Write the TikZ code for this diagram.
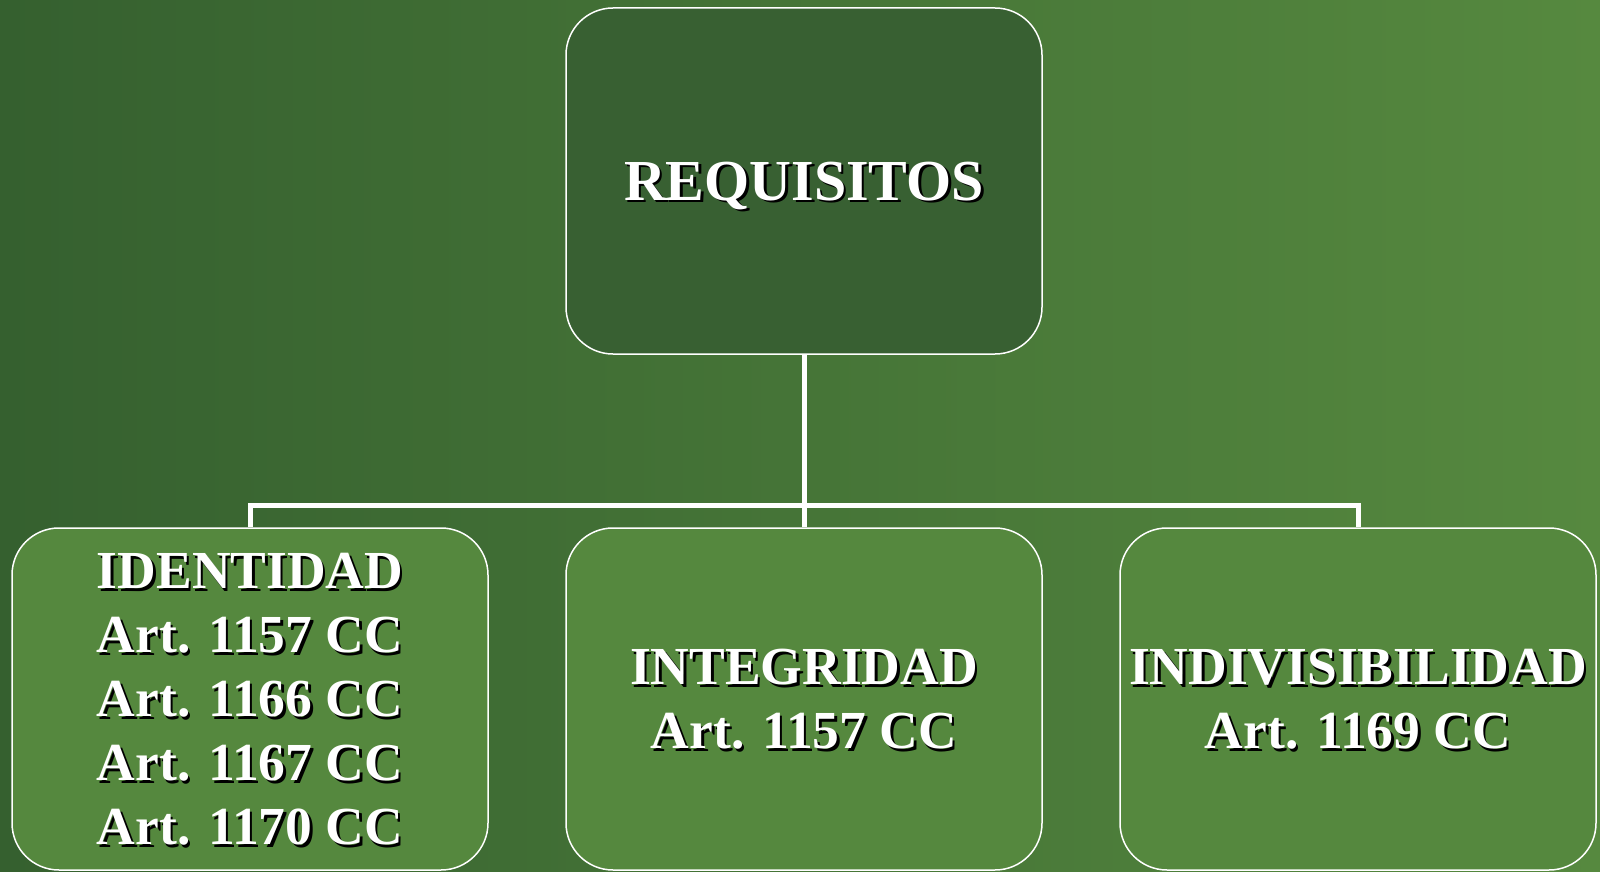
\documentclass[tikz,border=0pt]{standalone}
\usepackage{fontspec}
\setmainfont{Liberation Serif}
\usepackage{tikz}

\definecolor{bgleft}{RGB}{53,96,47}
\definecolor{bgright}{RGB}{86,137,63}
\definecolor{topfill}{RGB}{56,96,50}
\definecolor{boxfill}{RGB}{85,136,62}

\newcommand{\shtext}[1]{\makebox[0pt][l]{\hspace{2.5pt}\raisebox{-2.5pt}{\color{black}#1}}#1}

\begin{document}
\begin{tikzpicture}[x=1pt,y=-1pt,
  reqbox/.style={draw=white,line width=1.5pt,rounded corners=47pt,
    minimum width=476pt,inner sep=0pt,text=white,align=center,text depth=0pt,
    font=\bfseries\fontsize{53.5}{64}\selectfont},
  conn/.style={draw=white,line width=5pt}]
\shade[left color=bgleft,right color=bgright] (0,0) rectangle (1600,872);
\useasboundingbox (0,0) rectangle (1600,872);
\node (req) at (804,181) [reqbox,fill=topfill,minimum height=346pt,
  font=\bfseries\fontsize{58}{70}\selectfont] {\shtext{REQUISITOS}};
\node (ide) at (250,699) [reqbox,fill=boxfill,minimum height=342pt] {\shtext{IDENTIDAD}\\
\shtext{Art. 1157 CC}\\
\shtext{Art. 1166 CC}\\
\shtext{Art. 1167 CC}\\
\shtext{Art. 1170 CC}};
\node (int) at (804,699) [reqbox,fill=boxfill,minimum height=342pt] {\shtext{INTEGRIDAD}\\
\shtext{Art. 1157 CC}};
\node (ind) at (1358,699) [reqbox,fill=boxfill,minimum height=342pt] {\shtext{INDIVISIBILIDAD}\\
\shtext{Art. 1169 CC}};
\coordinate (bar) at (804,505);
\draw[conn] (req.south) -- (bar);
\draw[conn] (bar) -| (ide.north);
\draw[conn] (bar) -- (int.north);
\draw[conn] (bar) -| (ind.north);
\end{tikzpicture}
\end{document}
